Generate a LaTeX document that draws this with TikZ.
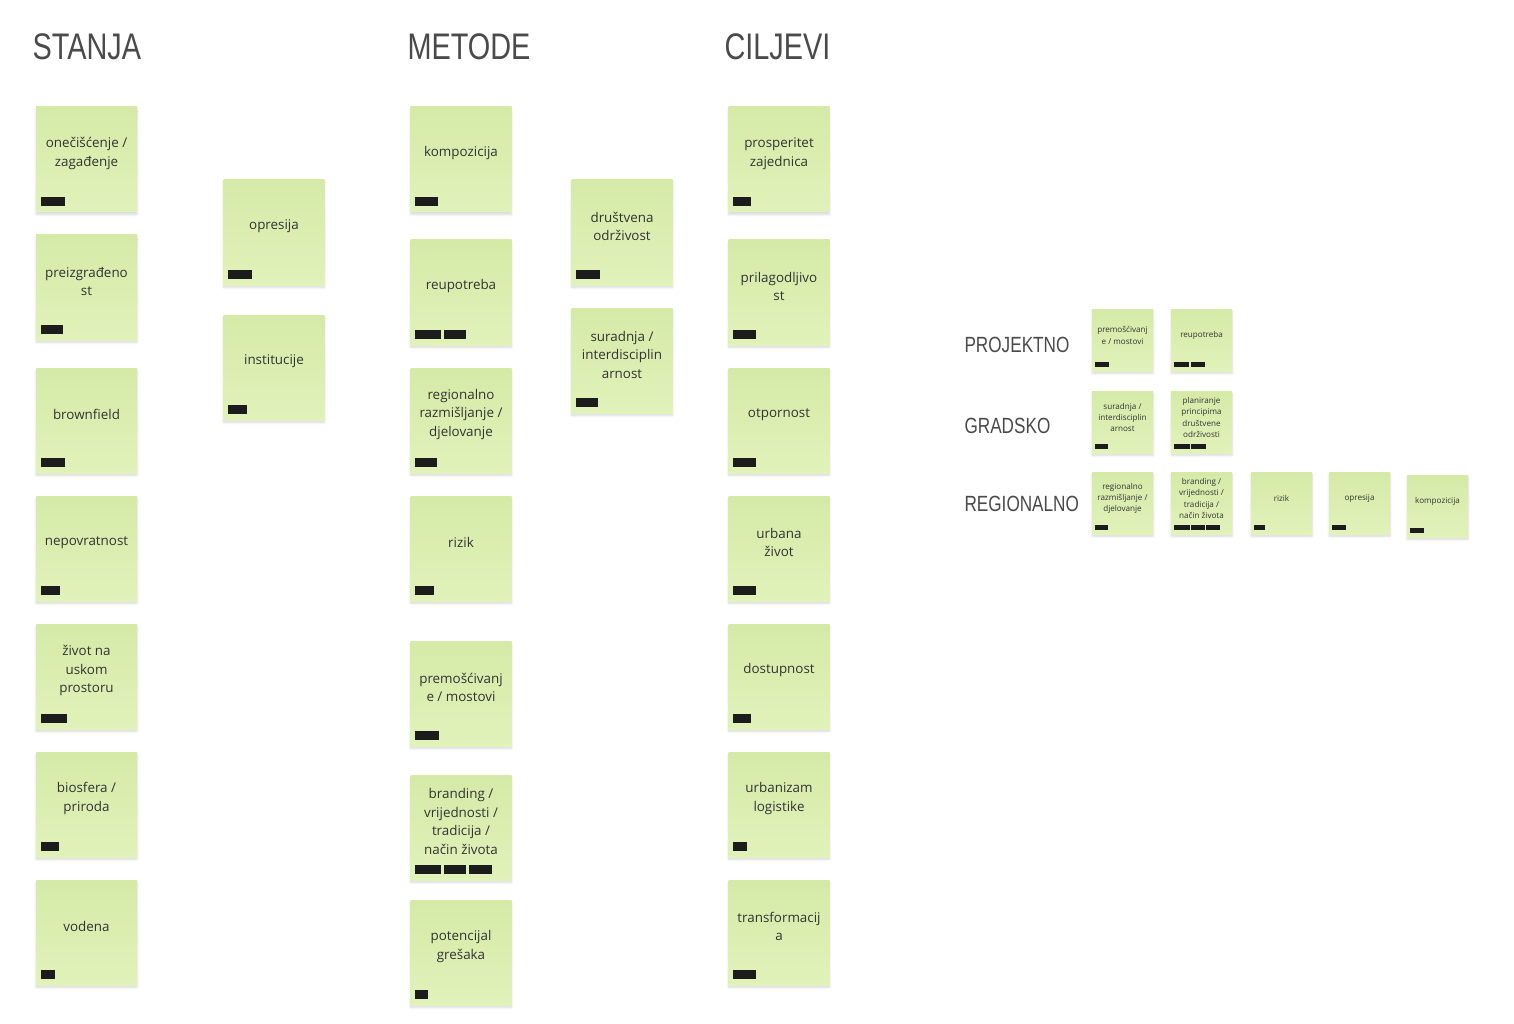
\documentclass[tikz,border=0pt]{standalone}
\usepackage{fontspec}
\setmainfont{Open Sans}
\newfontfamily\headfont[FakeStretch=0.78]{Liberation Sans}
\usepackage{tikz}
\usetikzlibrary{shadows.blur}
\definecolor{notetop}{HTML}{D5EAA7}
\definecolor{notebottom}{HTML}{E1F2BA}
\definecolor{barblack}{HTML}{1C1C1C}
\definecolor{headgray}{HTML}{4A4A4A}

\tikzset{
  sticky/.style={minimum width=101pt, minimum height=105pt, inner sep=0pt,
    top color=notetop, bottom color=notebottom,
    blur shadow={shadow xshift=0pt, shadow yshift=-2.5pt, shadow blur steps=6, shadow opacity=15}},
  smallsticky/.style={sticky, minimum width=61pt, minimum height=62pt},
  notetext/.style={align=center, text=black!80, font=\fontsize{13.4}{18.5}\selectfont},
  smalltext/.style={align=center, text=black!80, font=\fontsize{8.1}{11.3}\selectfont},
  heading/.style={anchor=base west, text=headgray, font=\headfont\fontsize{37}{40}\selectfont},
  levelname/.style={anchor=base west, text=headgray, font=\headfont\fontsize{22}{24}\selectfont}
}

% name, centre, text, bars (offset/width)
\newcommand\stickynote[4]{%
  \node[sticky] (#1) at (#2) {};
  \node[notetext] (#1-txt) at ([yshift=6pt]#1.center) {#3};
  \foreach \bx/\bw in {#4}
    \fill[barblack] ([xshift=\bx pt, yshift=6pt]#1.south west) rectangle ++(\bw,-9);
}
\newcommand\smallnote[4]{%
  \node[smallsticky] (#1) at (#2) {};
  \node[smalltext] (#1-txt) at ([yshift=4.5pt]#1.center) {#3};
  \foreach \bx/\bw in {#4}
    \fill[barblack] ([xshift=\bx pt, yshift=4pt]#1.south west) rectangle ++(\bw,-5);
}

\begin{document}
\begin{tikzpicture}[x=1pt, y=-1pt]
  \useasboundingbox (0,0) rectangle (1514,1024);

  \node[heading] (stanja) at (29,60) {STANJA};
  \node[heading] (metode) at (404,60) {METODE};
  \node[heading] (ciljevi) at (721,60) {CILJEVI};

  % stanja
  \stickynote{st1}{86.5,159.5}{onečišćenje /\\zagađenje}{5/24}
  \stickynote{st2}{86.5,287.5}{preizgrađeno\\st}{5/22}
  \stickynote{st3}{86.5,420.5}{brownfield}{5/24}
  \stickynote{st4}{86.5,548.5}{nepovratnost}{5/19}
  \stickynote{st5}{86.5,676.5}{život na\\uskom\\prostoru}{5/26}
  \stickynote{st6}{86.5,804.5}{biosfera /\\priroda}{5/18}
  \stickynote{st7}{86.5,932.5}{vodena}{5/14}
  \stickynote{st8}{274,232.5}{opresija}{5/24}
  \stickynote{st9}{274,367.5}{institucije}{5/19}

  % metode
  \stickynote{me1}{461,159.5}{kompozicija}{5/23}
  \stickynote{me2}{461,292.5}{reupotreba}{5/26,34/22}
  \stickynote{me3}{461,420.5}{regionalno\\razmišljanje /\\djelovanje}{5/22}
  \stickynote{me4}{461,548.5}{rizik}{5/19}
  \stickynote{me5}{461,693.5}{premošćivanj\\e / mostovi}{5/24}
  \stickynote{me6}{461,827.5}{branding /\\vrijednosti /\\tradicija /\\način života}{5/26,34/22,59/23}
  \stickynote{me7}{461,952.5}{potencijal\\grešaka}{5/13}
  \stickynote{me8}{622,232.5}{društvena\\održivost}{5/24}
  \stickynote{me9}{622,360.5}{suradnja /\\interdisciplin\\arnost}{5/22}

  % ciljevi
  \stickynote{ci1}{779,159.5}{prosperitet\\zajednica}{5/18}
  \stickynote{ci2}{779,292.5}{prilagodljivo\\st}{5/23}
  \stickynote{ci3}{779,420.5}{otpornost}{5/23}
  \stickynote{ci4}{779,548.5}{urbana\\život}{5/23}
  \stickynote{ci5}{779,676.5}{dostupnost}{5/18}
  \stickynote{ci6}{779,804.5}{urbanizam\\logistike}{5/14}
  \stickynote{ci7}{779,932.5}{transformacij\\a}{5/23}

  % razine
  \node[levelname] (projektno) at (961,352) {PROJEKTNO};
  \node[levelname] (gradsko) at (961,433) {GRADSKO};
  \node[levelname] (regionalno) at (961,511) {REGIONALNO};

  \smallnote{pr1}{1122.5,340}{premošćivanj\\e / mostovi}{3/14}
  \smallnote{pr2}{1201.5,340}{reupotreba}{3/15,20/14}
  \smallnote{gr1}{1122.5,422}{suradnja /\\interdisciplin\\arnost}{3/13}
  \smallnote{gr2}{1201.5,422}{planiranje\\principima\\društvene\\održivosti}{3/16,20/15}
  \smallnote{re1}{1122.5,503}{regionalno\\razmišljanje /\\djelovanje}{3/13}
  \smallnote{re2}{1201.5,503}{branding /\\vrijednosti /\\tradicija /\\način života}{3/16,20/14,35/14}
  \smallnote{re3}{1281.5,503}{rizik}{3/11}
  \smallnote{re4}{1359.5,503}{opresija}{3/14}
  \smallnote{re5}{1437.5,506}{kompozicija}{3/14}
\end{tikzpicture}
\end{document}
